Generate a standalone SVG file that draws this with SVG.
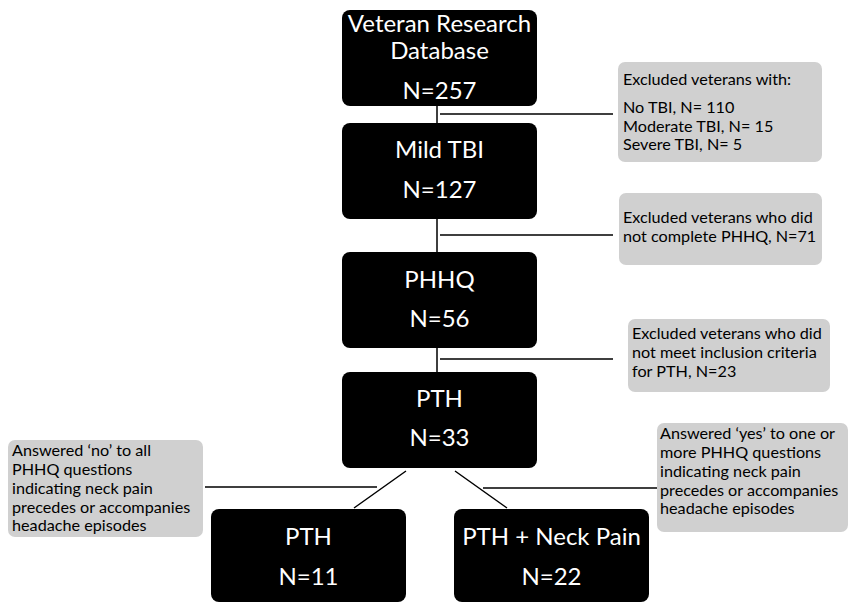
<svg xmlns="http://www.w3.org/2000/svg" width="849" height="603" viewBox="0 0 849 603">
<style>
.box{fill:#000;}
.note{fill:#d0d0d0;}
.bt{fill:#fff;font-family:Lato,"Open Sans",sans-serif;font-size:24px;text-anchor:middle;}
.nt{fill:#000;font-family:Lato,"Open Sans",sans-serif;font-size:16.2px;}
.ln{stroke:#000;stroke-width:1.5;fill:none;}
</style>
<rect width="849" height="603" fill="#fff"/>
<g id="connectors">
<path class="ln" d="M437 106V123M440 114H613"/>
<path class="ln" d="M437 219V252M440 235H613"/>
<path class="ln" d="M437 348V372M440 359H613"/>
<path class="ln" d="M406 471L354 508M455 471L507 508"/>
<path class="ln" d="M205 487H377M483 488H657"/>
</g>
<g id="n1"><rect class="box" x="342" y="10" width="195" height="96" rx="8"/>
<text class="bt" x="439.5" y="32">Veteran Research</text>
<text class="bt" x="439.5" y="59">Database</text>
<text class="bt" x="439.5" y="99">N=257</text></g>
<g id="n2"><rect class="box" x="342" y="123" width="195" height="96" rx="8"/>
<text class="bt" x="439.5" y="158">Mild TBI</text>
<text class="bt" x="439.5" y="198">N=127</text></g>
<g id="n3"><rect class="box" x="342" y="252" width="195" height="96" rx="8"/>
<text class="bt" x="439.5" y="288">PHHQ</text>
<text class="bt" x="439.5" y="327">N=56</text></g>
<g id="n4"><rect class="box" x="342" y="372" width="195" height="96" rx="8"/>
<text class="bt" x="439.5" y="407">PTH</text>
<text class="bt" x="439.5" y="446">N=33</text></g>
<g id="n5"><rect class="box" x="211" y="509" width="195" height="93" rx="8"/>
<text class="bt" x="308.5" y="545">PTH</text>
<text class="bt" x="308.5" y="585">N=11</text></g>
<g id="n6"><rect class="box" x="454" y="509" width="195" height="93" rx="8"/>
<text class="bt" x="551.5" y="545">PTH + Neck Pain</text>
<text class="bt" x="551.5" y="585">N=22</text></g>
<g id="e1"><rect class="note" x="618" y="62" width="204" height="100" rx="7"/>
<text class="nt" x="623" y="85">Excluded veterans with:</text>
<text class="nt" x="623" y="113">No TBI, N= 110</text>
<text class="nt" x="623" y="132">Moderate TBI, N= 15</text>
<text class="nt" x="623" y="150">Severe TBI, N= 5</text></g>
<g id="e2"><rect class="note" x="619" y="193" width="203" height="72" rx="7"/>
<text class="nt" x="623" y="223">Excluded veterans who did</text>
<text class="nt" x="623" y="242">not complete PHHQ, N=71</text></g>
<g id="e3"><rect class="note" x="628" y="319" width="202" height="73" rx="7"/>
<text class="nt" x="632" y="339">Excluded veterans who did</text>
<text class="nt" x="632" y="358">not meet inclusion criteria</text>
<text class="nt" x="632" y="377">for PTH, N=23</text></g>
<g id="e4"><rect class="note" x="8" y="440" width="195" height="97" rx="7"/>
<text class="nt" x="12" y="456">Answered ‘no’ to all</text>
<text class="nt" x="12" y="475">PHHQ questions</text>
<text class="nt" x="12" y="494">indicating neck pain</text>
<text class="nt" x="12" y="513">precedes or accompanies</text>
<text class="nt" x="12" y="531">headache episodes</text></g>
<g id="e5"><rect class="note" x="657" y="423" width="191" height="109" rx="7"/>
<text class="nt" x="660" y="439">Answered ‘yes’ to one or</text>
<text class="nt" x="660" y="458">more PHHQ questions</text>
<text class="nt" x="660" y="477">indicating neck pain</text>
<text class="nt" x="660" y="496">precedes or accompanies</text>
<text class="nt" x="660" y="514">headache episodes</text></g>
</svg>
